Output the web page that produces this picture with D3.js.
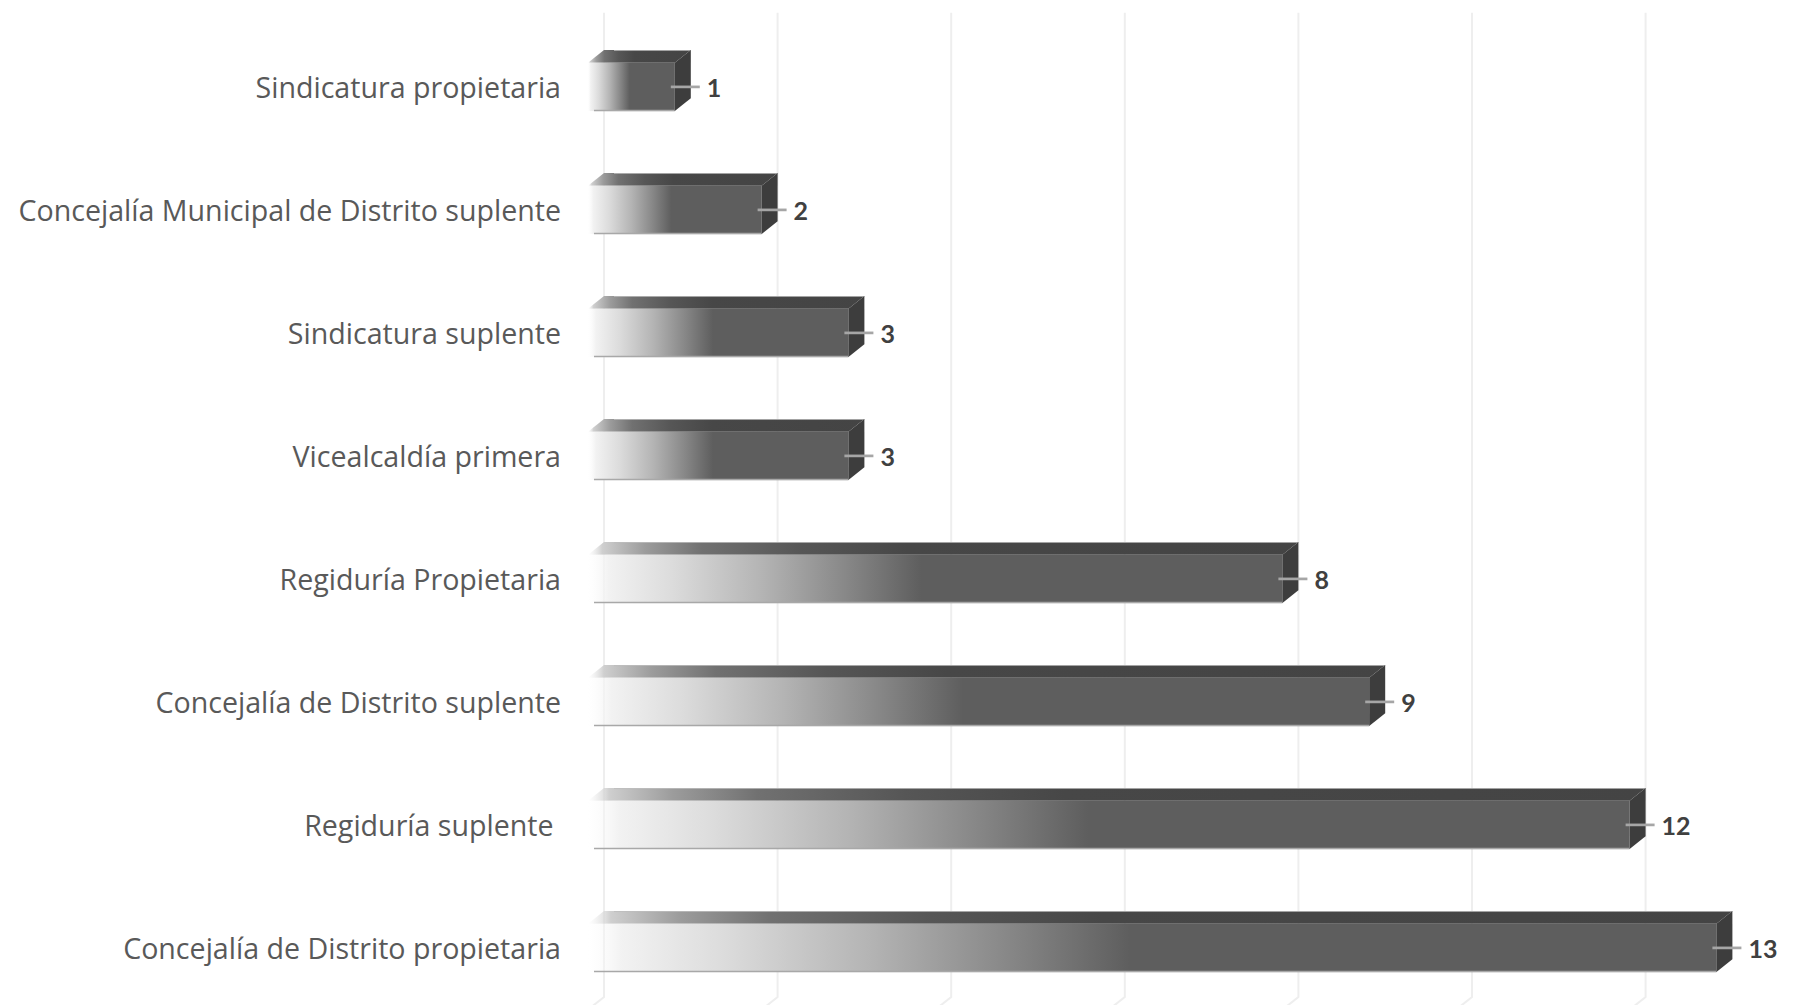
<!DOCTYPE html>
<html>
<head>
<meta charset="utf-8">
<script src="https://cdn.jsdelivr.net/npm/d3@7"></script>
<style>
  html, body { margin: 0; padding: 0; background: #ffffff; }
  svg { display: block; }
</style>
</head>
<body>
<svg id="chart" width="1799" height="1005"></svg>
<script>
const categories = [
  "Sindicatura propietaria",
  "Concejalía Municipal de Distrito suplente",
  "Sindicatura suplente",
  "Vicealcaldía primera",
  "Regiduría Propietaria",
  "Concejalía de Distrito suplente",
  "Regiduría suplente ",
  "Concejalía de Distrito propietaria"
];
const values = [1, 2, 3, 3, 8, 9, 12, 13];
const tickValues = [0, 2, 4, 6, 8, 10, 12];

const W = 1799, H = 1005;
const dx = 16, dy = 12.7;
const svg = d3.select("#chart");
svg.append("rect").attr("width", W).attr("height", H).attr("fill", "#fff");

const x = d3.scaleLinear().domain([0, 14]).range([604, 604 + 14 * 86.8]);
const y = d3.scaleBand().domain(categories).range([25.4, 1009.4])
  .paddingInner(0.607).paddingOuter(0.3035);

const defs = svg.append("defs");

// gridlines (back wall + floor)
const grid = svg.append("g");
tickValues.forEach(t => {
  const gx = x(t);
  grid.append("path")
    .attr("d", `M${gx},12.7 L${gx},997 L${gx - dx * 1.6},${997 + dy * 1.6}`)
    .attr("fill", "none").attr("stroke", "#eeeeee").attr("stroke-width", 2);
});

// front gradient
const fg = defs.append("linearGradient").attr("id", "frontGrad")
  .attr("x1", 0).attr("x2", 1).attr("y1", 0).attr("y2", 0);
[[0, "#fafafa", 0.0], [0.03, "#f2f2f2", 1], [0.12, "#dcdcdc", 1], [0.25, "#b4b4b4", 1],
 [0.37, "#888888", 1], [0.48, "#5e5e5e", 1], [1, "#5e5e5e", 1]]
  .forEach(s => fg.append("stop").attr("offset", s[0]).attr("stop-color", s[1]).attr("stop-opacity", s[2]));

const tg = defs.append("linearGradient").attr("id", "topGrad")
  .attr("x1", 0).attr("x2", 1).attr("y1", 0).attr("y2", 0);
[[0, "#e6e6e6", 0.0], [0.02, "#cfcfcf", 1], [0.08, "#9c9c9c", 1], [0.16, "#717171", 1],
 [0.3, "#565656", 1], [0.45, "#474747", 1], [1, "#444444", 1]]
  .forEach(s => tg.append("stop").attr("offset", s[0]).attr("stop-color", s[1]).attr("stop-opacity", s[2]));

const bars = svg.append("g").selectAll("g").data(categories).join("g");

bars.each(function(c, i) {
  const g = d3.select(this);
  const v = values[i];
  const x0 = x(0), xv = x(v);
  const yt = y(c), yb = y(c) + y.bandwidth();
  // top face
  g.append("path")
    .attr("d", `M${x0 - dx},${yt} L${xv - dx},${yt} L${xv},${yt - dy} L${x0},${yt - dy} Z`)
    .attr("fill", "url(#topGrad)");
  g.append("line")
    .attr("x1", x0 + 10).attr("x2", xv).attr("y1", yt - dy + 0.5).attr("y2", yt - dy + 0.5)
    .attr("stroke", "#bdbdbd").attr("stroke-width", 1).attr("stroke-opacity", 0.8);
  // front face
  g.append("rect")
    .attr("x", x0 - dx).attr("y", yt)
    .attr("width", xv - x0).attr("height", yb - yt)
    .attr("fill", "url(#frontGrad)");
  g.append("line")
    .attr("x1", x0 - dx + 6).attr("x2", xv - dx).attr("y1", yb - 0.5).attr("y2", yb - 0.5)
    .attr("stroke", "#a8a8a8").attr("stroke-width", 1.5);
  // side face
  g.append("path")
    .attr("d", `M${xv - dx},${yt} L${xv},${yt - dy} L${xv},${yb - dy} L${xv - dx},${yb} Z`)
    .attr("fill", "#3d3d3d");
  // leader line
  const yc = (yt + yb) / 2;
  g.append("line")
    .attr("x1", xv - 20).attr("x2", xv + 9).attr("y1", yc).attr("y2", yc)
    .attr("stroke", "#a6a6a6").attr("stroke-width", 2.7);
  // value label
  g.append("text")
    .attr("x", xv + 16).attr("y", yc)
    .attr("dominant-baseline", "central")
    .attr("font-family", "Lato, 'Open Sans', sans-serif")
    .attr("font-weight", "bold").attr("font-size", 25)
    .attr("fill", "#404040")
    .text(v);
  // category label
  g.append("text")
    .attr("x", 561).attr("y", yc)
    .attr("text-anchor", "end")
    .attr("dominant-baseline", "central")
    .attr("font-family", "'Open Sans', sans-serif")
    .attr("font-size", 28.6)
    .attr("fill", "#595959")
    .style("white-space", "pre")
    .text(c);
});
</script>
</body>
</html>
